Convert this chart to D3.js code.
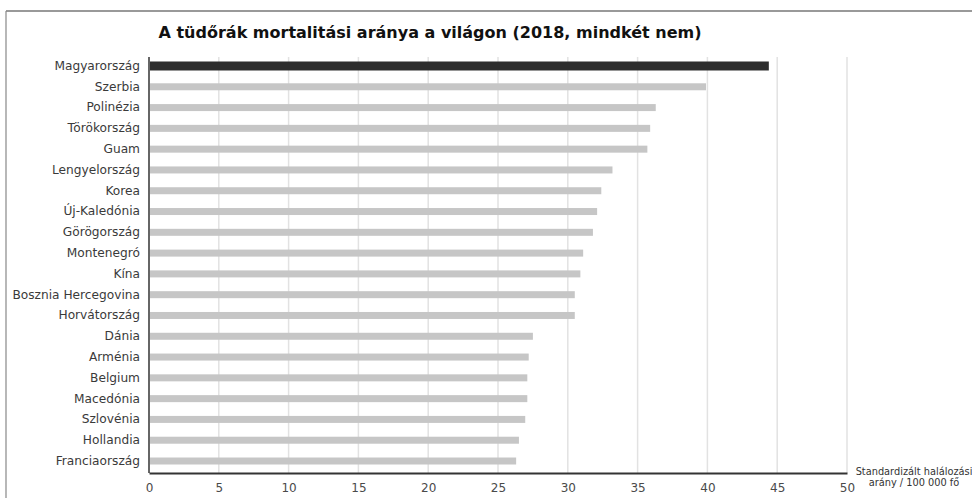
<!DOCTYPE html>
<html><head><meta charset="utf-8">
<script src="https://cdn.jsdelivr.net/npm/d3@7"></script>
<style>
html,body{margin:0;padding:0;background:#fff;}
svg{display:block;font-family:"DejaVu Sans","Noto Sans",sans-serif;}
</style></head>
<body>
<svg id="chart" width="972" height="498"></svg>
<script>
const title = "A tüdőrák mortalitási aránya a világon (2018, mindkét nem)";
const countries = ["Magyarország","Szerbia","Polinézia","Törökország","Guam","Lengyelország","Korea","Új-Kaledónia","Görögország","Montenegró","Kína","Bosznia Hercegovina","Horvátország","Dánia","Arménia","Belgium","Macedónia","Szlovénia","Hollandia","Franciaország"];
const rates = [44.4,39.9,36.3,35.9,35.7,33.2,32.4,32.1,31.8,31.1,30.9,30.5,30.5,27.5,27.2,27.1,27.1,26.95,26.5,26.3];
const xTicks = [0,5,10,15,20,25,30,35,40,45,50];
const unitLines = ["Standardizált halálozási","arány / 100 000 fő"];
const highlight = "Magyarország";

const svg = d3.select("#chart");
// frame
svg.append("line").attr("x1",6).attr("x2",972).attr("y1",11).attr("y2",11).attr("stroke","#777").attr("stroke-width",1.5);
svg.append("line").attr("x1",6).attr("x2",6).attr("y1",11).attr("y2",498).attr("stroke","#888").attr("stroke-width",1.2);

const x = d3.scaleLinear().domain([0,50]).range([149,847]);
const y = d3.scaleBand().domain(countries).range([55.6,471.4]).padding(0);

// gridlines
svg.append("g").selectAll("line").data(xTicks.filter(d=>d>0)).join("line")
  .attr("x1",d=>x(d)).attr("x2",d=>x(d)).attr("y1",57).attr("y2",473)
  .attr("stroke","#e2e2e2").attr("stroke-width",1.5);

// bars
svg.append("g").selectAll("rect").data(countries).join("rect")
  .attr("x",x(0)+1)
  .attr("y",(d)=>y(d)+y.bandwidth()/2-(d===highlight?4.5:3.5))
  .attr("height",d=>d===highlight?9:7)
  .attr("width",(d,i)=>x(rates[i])-x(0)-1)
  .attr("fill",d=>d===highlight?"#2d2d2d":"#c6c6c6");

// y axis
const yAxis = svg.append("g").attr("transform",`translate(${x(0)},0)`).call(d3.axisLeft(y).tickSize(0).tickPadding(9));
yAxis.select(".domain").attr("stroke","#333").attr("stroke-width",1.5).attr("d",`M0,57V473`);
yAxis.selectAll("text").attr("font-size",12.2).attr("fill","#3a3a3a").attr("font-family","'DejaVu Sans', sans-serif");

// x axis
const xAxis = svg.append("g").attr("transform","translate(0,473)").call(d3.axisBottom(x).tickValues(xTicks).tickSize(0).tickPadding(10).tickFormat(d3.format("d")));
xAxis.select(".domain").attr("stroke","#333").attr("stroke-width",2);
xAxis.selectAll("text").attr("font-size",12).attr("fill","#4a4a4a").attr("font-family","'DejaVu Sans', sans-serif");

// title
svg.append("text").attr("x",430).attr("y",38).attr("text-anchor","middle")
  .attr("font-size",16).attr("font-weight","bold").attr("fill","#111").text(title);

// unit label
svg.append("text").attr("text-anchor","middle").attr("font-size",9.8).attr("fill","#333")
  .selectAll("tspan").data(unitLines).join("tspan")
  .attr("x",914).attr("y",(d,i)=>475+i*10.5).text(d=>d);
</script>
</body></html>
